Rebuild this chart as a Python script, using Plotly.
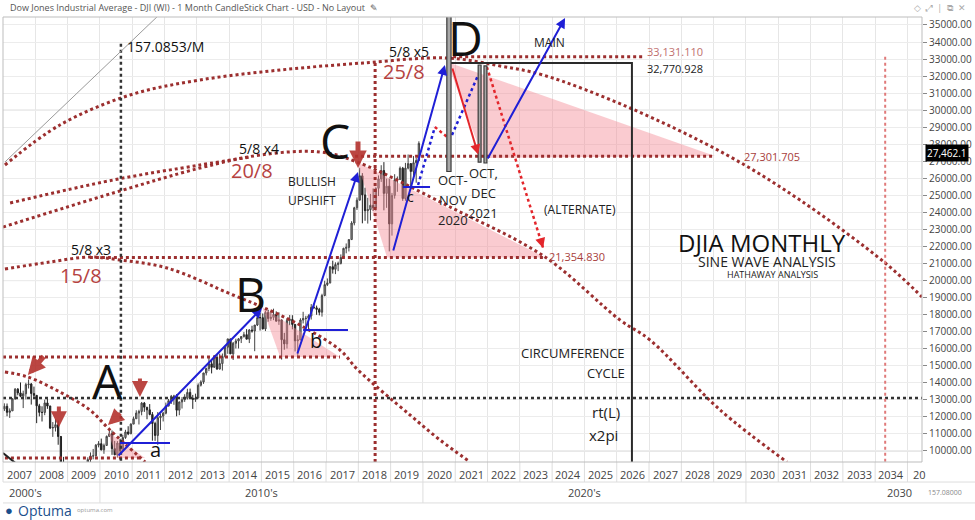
import plotly.graph_objects as go
import pandas as pd

# ---------------- DATA ----------------
# Monthly DJIA candles, Jan 2007 .. Nov 2019
opens = [12463,12622,12268,12354,13063,13628,13409,13212,13358,13896,13930,13372,
         13265,12650,12266,12263,12820,12638,11350,11378,11544,10851,9325,8829,
         8776,8001,7063,7609,8168,8500,8447,9172,9496,9712,9713,10345,
         10428,10067,10325,10857,11009,10137,9774,10466,10015,10788,11118,11006,
         11578,11892,12226,12320,12811,12570,12414,12143,11614,10913,11955,12046,
         12218,12633,12952,13212,13214,12393,12880,13009,13091,13437,13096,13026,
         13104,13861,14054,14579,14840,15116,14910,15500,14810,15130,15546,16086,
         16577,15699,16322,16458,16581,16717,16827,16563,17098,17043,17391,17828,
         17823,17165,18133,17776,17841,18011,17620,17690,16528,16285,17664,17720,
         17425,16466,16517,17685,17774,17787,17930,18432,18401,18308,18142,19124,
         19763,19864,20812,20663,20941,21009,21350,21891,21948,22405,23377,24272,
         24719,26149,25029,24103,24163,24416,24271,25415,25965,26458,25116,25538,
         23327,24999,25916,25929,26593,24815,26600,26864,26403,26917,27046]
highs = [12796,12787,12500,13106,13692,13692,14022,13540,14000,14198,13992,13780,
         13279,12767,12622,13010,13136,12657,11698,11867,11790,10882,9654,9026,
         9088,8315,7925,8243,8588,8877,9272,9630,9917,10120,10406,10580,
         10729,10434,10908,11258,11205,10594,10584,10720,10949,11245,11451,11625,
         12020,12391,12419,12876,12876,12570,12753,12284,11717,12284,12196,12294,
         12841,13055,13289,13297,13338,12898,13159,13330,13653,13661,13290,13365,
         13969,14149,14585,14888,15542,15340,15634,15659,15710,15721,16174,16588,
         16588,16398,16588,16631,16735,16978,17151,17154,17350,17395,17895,18103,
         18069,18244,18288,18175,18351,18190,18138,17706,16933,17799,17978,17968,
         17405,16795,17790,18168,17934,18017,18622,18668,18533,18399,19226,19987,
         20125,20851,21169,21070,21113,21535,21929,22179,22420,23485,24328,24876,
         26617,26307,25449,24858,25087,25403,25468,26168,26770,26951,25981,25981,
         25144,26242,26110,26696,26669,26907,27399,26891,27306,27202,28174]
lows = [12343,12038,11939,12354,13012,13266,13156,12518,13029,13667,12724,13169,
        11634,12030,11731,12100,12473,11287,10827,11143,10365,7882,7449,8149,
        7909,7063,6470,7387,8075,8179,8087,9063,9253,9511,9678,10213,
        10036,9835,10302,10836,9774,9757,9614,9936,9941,10712,10929,11006,
        11578,11892,11555,12093,12298,11862,12093,10604,10597,10362,11231,11733,
        12150,12632,12759,12710,12035,12101,12492,12880,13020,13052,12471,12883,
        13104,13784,13937,14434,14687,14552,14975,14760,14777,14719,15479,15703,
        15698,15340,16017,16015,16334,16653,16557,16333,16945,15855,17332,17067,
        17136,17037,17585,17640,17678,17597,17400,15370,15942,16014,17378,17139,
        15842,15503,16546,17484,17332,17063,17713,18371,17992,17959,17884,19076,
        19678,19832,20412,20379,20553,20947,21279,21600,21709,22416,23242,24141,
        24741,23360,23509,23345,23532,24085,24101,24965,25788,24123,24268,21713,
        22639,24810,25209,25945,24680,24680,26526,25340,26151,25744,27036]
closes = [12622,12268,12354,13063,13628,13409,13212,13358,13896,13930,13372,13265,
          12650,12266,12263,12820,12638,11350,11378,11544,10851,9325,8829,8776,
          8001,7063,7609,8168,8500,8447,9172,9496,9712,9713,10345,10428,
          10067,10325,10857,11009,10137,9774,10466,10015,10788,11118,11006,11578,
          11892,12226,12320,12811,12570,12414,12143,11614,10913,11955,12046,12218,
          12633,12952,13212,13214,12393,12880,13009,13091,13437,13096,13026,13104,
          13861,14054,14579,14840,15116,14910,15500,14810,15130,15546,16086,16577,
          15699,16322,16458,16581,16717,16827,16563,17098,17043,17391,17828,17823,
          17165,18133,17776,17841,18011,17620,17690,16528,16285,17664,17720,17425,
          16466,16517,17685,17774,17787,17930,18432,18401,18308,18142,19124,19763,
          19864,20812,20663,20941,21009,21350,21891,21948,22405,23377,24272,24719,
          26149,25029,24103,24163,24416,24271,25415,25965,26458,25116,25538,23327,
          24999,25916,25929,26593,24815,26600,26864,26403,26917,27046,28051]

years = list(range(2007, 2036))
year_labels = [str(y) for y in years[:-1]] + ["20"]
decades = ["2000's", "2010's", "2020's", "2030"]
price_ticks = list(range(10000, 36000, 1000))

# sine-wave arcs (year, price)
arc25_x = [2007.06, 2008.76, 2010.93, 2013.10, 2015.58, 2018.15, 2020.75, 2022.39, 2023.72, 2026.41, 2029.41, 2031.67, 2034.31, 2035.45]
arc25_y = [26782, 29130, 30890, 31770, 32357, 32768, 33061, 32592, 32063, 30127, 27369, 24729, 21032, 19037]
arc20_x = [2007.00, 2010.41, 2013.10, 2014.96, 2016.81, 2017.96, 2020.84, 2023.78, 2026.10, 2027.03, 2029.20, 2031.27]
arc20_y = [23144, 25139, 26606, 27369, 27545, 26958, 24318, 21384, 17687, 16513, 12406, 9354]
arc20b_x = [2007.22, 2010.41, 2013.10, 2014.65]
arc20b_y = [24553, 25902, 26782, 27252]
arc15_x = [2007.06, 2008.46, 2009.69, 2010.62, 2012.08, 2014.12, 2015.02, 2016.19, 2017.43, 2017.99, 2019.60, 2020.53, 2021.46]
arc15_y = [20680, 21091, 21384, 21208, 20739, 19154, 18450, 17394, 15927, 14753, 12112, 10645, 9354]
arcA_x = [2007.06, 2007.77, 2008.76, 2009.69, 2010.31, 2011.40]
arcA_y = [14636, 14342, 13462, 12406, 11232, 9354]

# key levels
lvl_33131 = 33131.110
lvl_32771 = 32770.928
lvl_27302 = 27301.705
lvl_21355 = 21354.830
lvl_15516 = 15516
lvl_13110 = 13110
lvl_9589 = 9589
last_price = 27462.1

# ---------------- FIGURE ----------------
X0, X1 = 2007.0, 2035.45
Y0, Y1 = 9354, 35467
DR = "#9c2f2f"
BLUE = "#1f1fd6"
RED = "#e3262b"
PINK = "rgba(243,140,150,0.45)"
FONT = "Open Sans"

def xp(yr):
    return (yr - X0) / (X1 - X0)

fig = go.Figure()

def tri(xs, ys):
    fig.add_trace(go.Scatter(x=xs + [xs[0]], y=ys + [ys[0]], fill="toself", fillcolor=PINK,
                             mode="lines", line=dict(width=0), hoverinfo="skip", showlegend=False))

# pink triangles
tri([2010.25, 2010.53, 2011.40], [11115, 9589, 9589])
tri([2015.02, 2015.58, 2017.43], [18450, lvl_15516, lvl_15516])
tri([2017.96, 2018.89, 2023.78], [26958, lvl_21355, lvl_21355])
tri([2020.75, 2021.86, 2029.04], [32827, 27193, 27311])

# candles
months = pd.date_range("2007-01-01", periods=len(closes), freq="MS")
xm = [m.year + (m.month - 0.5) / 12 for m in months]
fig.add_trace(go.Candlestick(x=xm, open=opens, high=highs, low=lows, close=closes,
                             increasing=dict(line=dict(color="#444", width=1), fillcolor="#9a9a9a"),
                             decreasing=dict(line=dict(color="#222", width=1), fillcolor="#222"),
                             whiskerwidth=0, showlegend=False, hoverinfo="skip"))

def seg(xs, ys, color, width=2, dash="solid", spline=False):
    fig.add_trace(go.Scatter(x=xs, y=ys, mode="lines",
                             line=dict(color=color, width=width, dash=dash,
                                       shape="spline" if spline else "linear"),
                             hoverinfo="skip", showlegend=False))

# arcs
for ax_, ay_ in [(arc25_x, arc25_y), (arc20_x, arc20_y), (arc20b_x, arc20b_y), (arc15_x, arc15_y), (arcA_x, arcA_y)]:
    seg(ax_, ay_, DR, 3, "dot", spline=True)

# horizontal levels
seg([2020.75, 2026.81], [lvl_33131, lvl_33131], DR, 3, "dot")
seg([2017.90, 2029.04], [lvl_27302, lvl_27302], DR, 3, "dot")
seg([2009.69, 2023.78], [lvl_21355, lvl_21355], DR, 3, "dot")
seg([2007.0, 2017.43], [lvl_15516, lvl_15516], DR, 3, "dot")
seg([2007.06, 2011.24], [lvl_9589, lvl_9589], DR, 3, "dot")
seg([X0, X1], [lvl_13110, lvl_13110], "#333", 2.5, "dot")
# vertical dotted
seg([2010.65, 2010.65], [33900, Y0], "#333", 2.5, "dot")
seg([2018.52, 2018.52], [32768, Y0], DR, 3, "dot")
seg([2034.31, 2034.31], [lvl_33131, Y0], "#e07a7a", 2, "dot")
# black cycle box
seg([2020.75, 2026.47, 2026.47], [lvl_32771, lvl_32771, Y0], "#2a2a2a", 2)
# grey diagonals
seg([2007.06, 2011.86], [26958, 35643], "#9a9a9a", 1)
seg([2007.0, 2007.46], [9883, 9178], "#222", 2)

# thick bars Oct-Nov 2020 / Oct-Dec 2021
for xa, xb, ya, yb in [(2020.74, 2020.87, 26400, 35600), (2021.71, 2021.80, 26950, 32650), (2021.89, 2021.98, 26900, 32600)]:
    fig.add_shape(type="rect", x0=xa, x1=xb, y0=ya, y1=yb, fillcolor="#a8a8a8",
                  line=dict(color="#3a3a3a", width=1.2), layer="above")

# blue lines
seg([2010.62, 2012.17], [10469, 10469], BLUE, 2)
seg([2016.29, 2017.68], [17100, 17100], BLUE, 2)
seg([2019.38, 2020.22], [25491, 25491], BLUE, 2)
seg([2019.85, 2020.37], [25609, 29013], BLUE, 2.5, "dot")
seg([2020.37, 2020.75], [29013, 28426], RED, 2.5, "dot")
seg([2020.90, 2021.71], [28543, 32063], BLUE, 2.5, "dot")
seg([2021.98, 2023.72], [32533, 21912], RED, 2.5, "dot")

annos = []
def arrow(x0, y0, x1, y1, color, width=2, head=2, size=1.0):
    annos.append(dict(x=x1, y=y1, ax=x0, ay=y0, xref="x", yref="y", axref="x", ayref="y",
                      showarrow=True, arrowhead=head, arrowsize=size, arrowwidth=width,
                      arrowcolor=color, text=""))

arrow(2010.53, 9648, 2015.02, 18391, BLUE)
arrow(2016.10, 15633, 2017.99, 26371, BLUE)
arrow(2019.07, 21677, 2020.68, 32650, BLUE)
arrow(2021.98, 27076, 2024.40, 35408, BLUE)
arrow(2020.90, 32533, 2021.71, 27400, RED)
arrow(2020.70, 28560, 2020.75, 28426, RED)
arrow(2021.66, 31850, 2021.71, 32063, BLUE)
arrow(2023.66, 22290, 2023.72, 21912, RED)
# dark red pointer arrows
PA = "rgba(180,50,46,0.9)"
arrow(2008.30, 15633, 2007.77, 14460, PA, 5, 2, 0.7)
arrow(2008.73, 12700, 2008.73, 11400, PA, 4, 2, 0.8)
arrow(2011.24, 14342, 2011.24, 13169, PA, 4, 2, 0.8)
arrow(2010.68, 12289, 2010.25, 11526, PA, 4, 2, 0.8)
arrow(2017.99, 28250, 2017.99, 26606, PA, 5, 2, 0.7)

def txt(s, x, y, size, color="#111", xanchor="center", yanchor="middle", xref="x", yref="y", bg=None, family=FONT):
    d = dict(text=s, x=x, y=y, xref=xref, yref=yref, showarrow=False, xanchor=xanchor, yanchor=yanchor,
             font=dict(size=size, color=color, family=family))
    if bg:
        d["bgcolor"] = bg
    annos.append(d)

TR = "#b5423f"
txt("A", 2010.25, 14166, 48)
txt("B", 2014.65, 19271, 48)
txt("C", 2017.28, 28191, 48)
txt("D", 2021.33, 34235, 48)
txt("a", 2011.71, 10117, 20)
txt("b", 2016.69, 16513, 20)
txt("c", 2019.63, 24963, 14)
txt("5/8 x3", 2009.72, 21795, 14)
txt("15/8", 2009.41, 20327, 20, TR)
txt("5/8 x4", 2014.93, 27780, 14)
txt("20/8", 2014.71, 26488, 20, TR)
txt("5/8 x5", 2019.57, 33472, 14)
txt("25/8", 2019.41, 32298, 20, TR)
txt("BULLISH", 2016.57, 25785, 12, "#222")
txt("UPSHIFT", 2016.57, 24728, 12, "#222")
txt("157.0853/M", 2012.02, 33707, 14)
txt("OCT-", 2020.92, 25902, 13, "#222")
txt("NOV", 2020.92, 24728, 13, "#222")
txt("2020", 2020.92, 23555, 13, "#222")
txt("OCT,", 2021.86, 26313, 13, "#222")
txt("DEC", 2021.86, 25139, 13, "#222")
txt("2021", 2021.86, 23966, 13, "#222")
txt("MAIN", 2023.93, 34000, 12, "#222")
txt("(ALTERNATE)", 2024.86, 24142, 12, "#222")
txt("33,131.110", 2026.88, 33414, 11, "#c0706e", "left")
txt("32,770.928", 2026.88, 32416, 11, "#222", "left")
txt("27,301.705", 2029.88, 27252, 11, "#a8403c", "left")
txt("21,354.830", 2023.84, 21384, 11, "#a8403c", "left")
txt("DJIA MONTHLY", 2030.50, 22206, 24, "#111")
txt("SINE WAVE ANALYSIS", 2030.65, 21091, 14, "#222")
txt("HATHAWAY ANALYSIS", 2030.81, 20328, 9, "#222")
txt("CIRCUMFERENCE", 2026.32, 15751, 13, "#222", "right")
txt("CYCLE", 2026.32, 14577, 13, "#222", "right")
txt("rt(L)", 2026.16, 12289, 15, "#222", "right")
txt("x2pi", 2026.10, 10939, 15, "#222", "right")

# price box on axis
annos.append(dict(text="27,462.1", x=1.0, y=last_price, xref="paper", yref="y", xanchor="left", xshift=3,
                  showarrow=False, bgcolor="#000", borderpad=1, font=dict(size=10, color="#fff", family=FONT)))

# bottom axis rows
for y_, lab in zip(years, year_labels):
    if lab == "20":
        txt(lab, xp(y_) + 0.004, -0.027, 11, "#444", "left", xref="paper", yref="paper")
    else:
        txt(lab, xp(y_ + 0.5), -0.027, 11, "#444", xref="paper", yref="paper")
txt(decades[0], 0.004, -0.068, 11, "#444", "left", xref="paper", yref="paper")
txt(decades[1], xp(2015.0), -0.068, 11, "#444", xref="paper", yref="paper")
txt(decades[2], xp(2025.0), -0.068, 11, "#444", xref="paper", yref="paper")
txt(decades[3], xp(2035.2), -0.068, 11, "#444", "right", xref="paper", yref="paper")
txt("157.08000", 1.004, -0.068, 7, "#888", "left", xref="paper", yref="paper")

# header / footer
txt("Dow Jones Industrial Average - DJI (WI) - 1 Month CandleStick Chart - USD - No Layout  ✎", 0.005, 1.022, 9, "#555", "left", xref="paper", yref="paper")
txt("◇  ⤢  |  ⧉  ✕", 1.05, 1.022, 9, "#aaa", "right", xref="paper", yref="paper")
txt("●", 0.0, -0.108, 13, "#1b4f8c", "left", xref="paper", yref="paper")
txt("Optuma", 0.014, -0.108, 14, "#1b4f8c", "left", xref="paper", yref="paper")
txt("optuma.com", 0.078, -0.108, 6, "#999", "left", xref="paper", yref="paper")

shapes = []
# major grid
for v in [10000, 20000, 30000]:
    shapes.append(dict(type="line", xref="paper", yref="y", x0=0, x1=1, y0=v, y1=v,
                       line=dict(color="#cfcfcf", width=1), layer="below"))
# bottom axis grid
for y_ in years:
    shapes.append(dict(type="line", xref="paper", yref="paper", x0=xp(y_), x1=xp(y_), y0=0, y1=-0.045,
                       line=dict(color="#dddddd", width=1)))
for y_ in [2010, 2020, 2030]:
    shapes.append(dict(type="line", xref="paper", yref="paper", x0=xp(y_), x1=xp(y_), y0=-0.045, y1=-0.092,
                       line=dict(color="#dddddd", width=1)))
for yy in [-0.045, -0.092]:
    shapes.append(dict(type="line", xref="paper", yref="paper", x0=0, x1=1.06, y0=yy, y1=yy,
                       line=dict(color="#dddddd", width=1)))
shapes.append(dict(type="rect", xref="paper", yref="paper", x0=0, x1=1, y0=0, y1=1,
                   line=dict(color="#bdbdbd", width=1)))
for s in shapes:
    fig.add_shape(**s)

fig.update_layout(
    width=975, height=520, margin=dict(l=3, r=53, t=17, b=58),
    paper_bgcolor="white", plot_bgcolor="white",
    annotations=annos, showlegend=False,
    xaxis=dict(range=[X0, X1], tickmode="array", tickvals=years, showticklabels=False,
               showgrid=True, gridcolor="#e6e6e6", gridwidth=1, zeroline=False,
               rangeslider=dict(visible=False), fixedrange=True, automargin=False),
    yaxis=dict(range=[Y0, Y1], side="right", tickmode="array", tickvals=price_ticks,
               ticktext=[f"{v:.2f}" for v in price_ticks], ticks="outside", ticklen=4,
               tickcolor="#888", tickfont=dict(size=10, color="#444", family=FONT),
               showgrid=True, gridcolor="#ececec", zeroline=False, automargin=False),
)
fig.write_html("out.html")
